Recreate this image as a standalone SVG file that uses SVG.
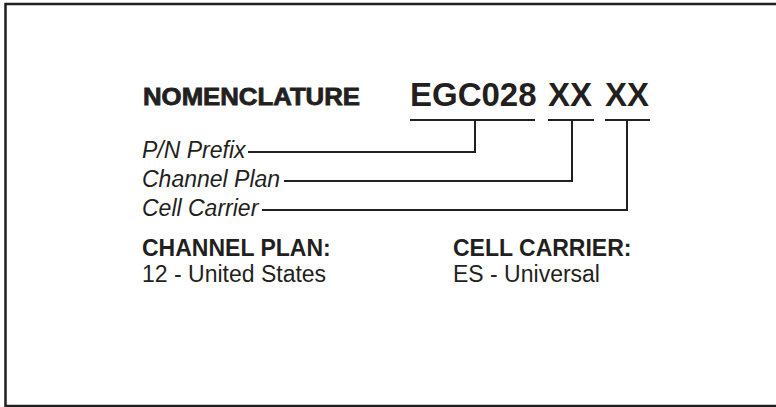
<svg xmlns="http://www.w3.org/2000/svg" width="776" height="407" viewBox="0 0 776 407">
<style>
  .t{font-family:"Liberation Sans",Arial,sans-serif;fill:#231f20}
  .b{font-weight:bold}
  .i{font-style:italic}
  .ln{stroke:#231f20;stroke-width:2;fill:none}
</style>
<rect width="776" height="407" fill="#fff"/>
<g id="frame"><path d="M5.5 407 V4 H776 M5 406 H776" stroke="#231f20" stroke-width="2.5" fill="none"/></g>
<g id="title">
  <text class="t b" x="143" y="105" font-size="24" textLength="217" lengthAdjust="spacingAndGlyphs" stroke="#231f20" stroke-width="0.8">NOMENCLATURE</text>
</g>
<g id="code">
  <text class="t b" x="410" y="106" font-size="33">EGC028</text>
  <text class="t b" x="548" y="106" font-size="33">XX</text>
  <text class="t b" x="605" y="106" font-size="33">XX</text>
</g>
<g id="label-prefix"><text class="t i" x="142" y="158" font-size="23">P/N Prefix</text></g>
<g id="label-channel"><text class="t i" x="142" y="187" font-size="23">Channel Plan</text></g>
<g id="label-carrier"><text class="t i" x="142" y="216" font-size="23">Cell Carrier</text></g>
<g id="connectors" class="ln">
  <path class="ln" d="M410 120 H535 M548 120 H594 M605 120 H650"/>
  <path class="ln" d="M475 120 V152 H248"/>
  <path class="ln" d="M572 120 V181 H284"/>
  <path class="ln" d="M627 120 V210 H262"/>
</g>
<g id="channel-plan">
  <text class="t b" x="142" y="256" font-size="23">CHANNEL PLAN:</text>
  <text class="t" x="142" y="282" font-size="23">12 - United States</text>
</g>
<g id="cell-carrier">
  <text class="t b" x="453" y="256" font-size="23">CELL CARRIER:</text>
  <text class="t" x="453" y="282" font-size="23">ES - Universal</text>
</g>
</svg>
